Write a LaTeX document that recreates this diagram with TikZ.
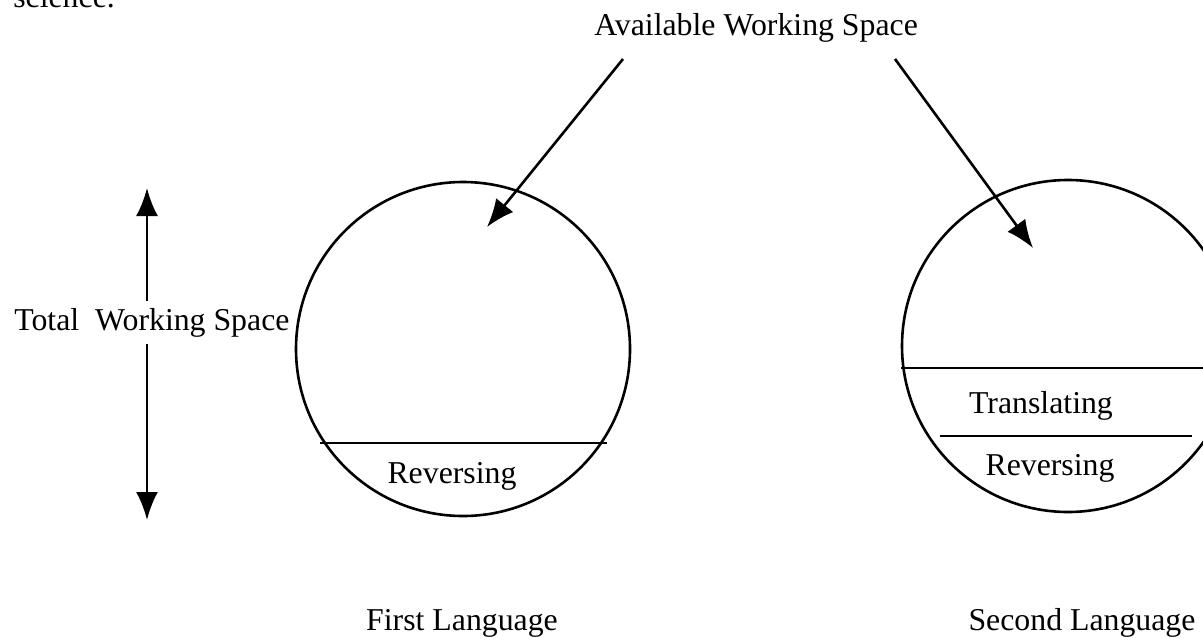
\documentclass[tikz,border=0pt]{standalone}
\usepackage{fontspec}
\setmainfont{Liberation Serif}
\usetikzlibrary{arrows.meta}

\begin{document}
\begin{tikzpicture}[x=.5pt, y=-.5pt, line width=1.3pt,
  >={Latex[length=14pt, width=11pt]},
  txt/.style={inner sep=0pt, font=\fontsize{15.9}{18}\selectfont}]

\useasboundingbox (0,0) rectangle (1203,637);
\clip (0,0) rectangle (1203,637);

\node [txt, anchor=base west] (sci) at (12,7) {science.};
\node [txt, anchor=base west] (title) at (593,35) {Available Working Space};
\node [txt, anchor=base west, inner sep=3pt] (total) at (7,330) {Total\ \ Working Space};

\node [circle, draw, minimum size=167pt, inner sep=0pt] (lang1) at (463,349) {};
\node [circle, draw, minimum size=166pt, inner sep=0pt] (lang2) at (1068,346) {};

\draw (320,443) -- (607,443);
\draw (901,368) -- (1210,368);
\draw (940,436) -- (1192,436);

\node [txt, anchor=base] (rev1) at (452,483) {Reversing};
\node [txt, anchor=base] (trans) at (1041,413) {Translating};
\node [txt, anchor=base] (rev2) at (1050,475) {Reversing};

\node [txt, anchor=base] (first) at (462,630) {First Language};
\node [txt, anchor=base] (second) at (1082,630) {Second Language};

\coordinate (src1) at (623,59);
\coordinate (src2) at (895,59);
\coordinate (tip1) at (487,227);
\coordinate (tip2) at (1033,248);
\coordinate (top) at (147,188);
\coordinate (bot) at (147,520);

\draw [->] (src1) -- (tip1);
\draw [->] (src2) -- (tip2);
\draw [->] (total.north -| top) -- (top);
\draw [->] (total.south -| bot) -- (bot);

\end{tikzpicture}
\end{document}
